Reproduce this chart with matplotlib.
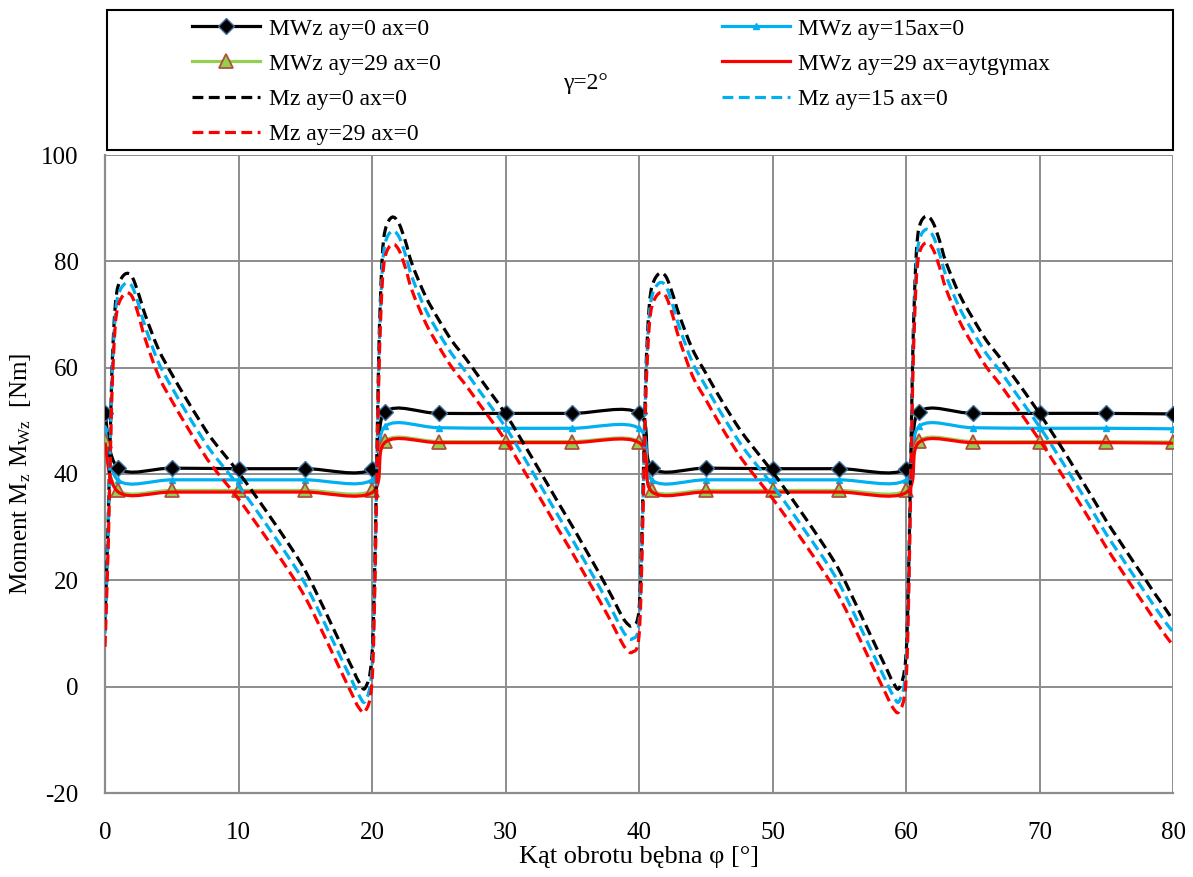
import numpy as np
import matplotlib
matplotlib.use("Agg")
import matplotlib.pyplot as plt
from matplotlib.path import Path
from matplotlib.patches import PathPatch, Rectangle
from matplotlib.lines import Line2D

plt.rcParams["font.family"] = ["Liberation Serif", "DejaVu Serif"]
plt.rcParams["mathtext.default"] = "regular"
plt.rcParams["axes.unicode_minus"] = False

# MWz series (points every 5 deg plus the jump points)
X_MW = [0, 1, 5, 10, 15, 20, 21, 25, 30, 35, 40, 41, 45, 50, 55, 60, 61, 65, 70, 75, 80]
MWZ_AY0 = [51.4, 41.1, 41.1, 41.0, 41.0, 41.0, 51.7, 51.4, 51.4, 51.4, 51.4,
           41.1, 41.1, 41.0, 41.0, 41.0, 51.7, 51.4, 51.4, 51.4, 51.3]
MWZ_AY15 = [48.7, 38.8, 38.9, 38.9, 38.9, 38.9, 49.0, 48.7, 48.6, 48.6, 48.6,
            38.8, 38.9, 38.9, 38.9, 38.9, 49.0, 48.7, 48.6, 48.6, 48.5]
MWZ_AY29 = [46.2, 36.9, 36.9, 36.9, 36.9, 36.9, 46.3, 46.1, 46.1, 46.1, 46.1,
            36.9, 36.9, 36.9, 36.9, 36.9, 46.3, 46.1, 46.1, 46.1, 46.0]
MWZ_AY29_TG = [45.9, 36.6, 36.6, 36.6, 36.6, 36.5, 46.0, 45.9, 45.9, 45.9, 45.9,
               36.6, 36.6, 36.6, 36.6, 36.5, 46.0, 45.9, 45.9, 45.9, 45.8]

# Mz series
X_MZ = [0, 0.25, 0.5, 0.75, 1, 1.5, 2, 2.5, 3, 4, 5, 6, 7, 8, 10, 12, 14, 15, 16, 17, 18, 18.5, 19, 19.5,
        20, 20.25, 20.5, 20.75, 21, 21.5, 22, 22.5, 23, 24, 25, 26, 27, 28, 30, 32, 34, 35, 36, 37, 38, 38.5, 39, 39.5,
        40, 40.25, 40.5, 40.75, 41, 41.5, 42, 42.5, 43, 44, 45, 46, 47, 48, 50, 52, 54, 55, 56, 57, 58, 58.5, 59, 59.5,
        60, 60.25, 60.5, 60.75, 61, 61.5, 62, 62.5, 63, 64, 65, 66, 67, 68, 70, 72, 74, 75, 76, 77, 78, 78.5, 79, 79.5,
        80]
MZ_AY0 = [12.5, 32, 58, 71, 75.5, 77.6, 77.2, 74.0, 70.0, 63.5, 58.8, 54.5, 50.4, 46.6, 40.3, 33.3, 25.9, 21.8,
          16.8, 11.5, 6.2, 3.6, 1.0, -0.2,
          6.0, 28, 62, 80, 86, 88.3, 87.2, 83.8, 79.5, 73.5, 69.0, 65.0, 61.8, 58.3, 51.3, 43.0, 34.4, 30.2,
          25.8, 21.4, 16.8, 14.3, 12.2, 11.5,
          14.5, 32, 58, 71, 75.5, 77.7, 77.2, 74.0, 70.0, 63.5, 59.0, 54.6, 50.5, 46.8, 40.4, 33.4, 26.0, 21.9,
          16.8, 11.5, 6.2, 3.6, 1.0, -0.2,
          6.0, 28, 62, 80.5, 86.5, 88.5, 87.4, 84.0, 79.8, 73.8, 69.3, 65.2, 62.0, 58.5, 51.4, 43.6, 35.4, 31.2,
          27.4, 23.6, 19.9, 18.0, 16.2, 14.4,
          12.5]
MZ_AY15 = [10.0, 29.5, 55.8, 69.1, 73.7, 75.8, 75.4, 72.0, 67.8, 61.0, 56.3, 52.0, 47.9, 44.1, 37.8, 30.8, 23.4, 19.3,
           14.3, 9.0, 3.7, 1.1, -1.5, -2.7,
           3.5, 25.5, 59.5, 77.5, 83.5, 85.7, 84.7, 81.3, 77.0, 71.0, 66.5, 62.5, 59.3, 55.8, 48.8, 40.5, 31.9, 27.7,
           23.3, 18.9, 14.3, 11.8, 9.7, 9.0,
           12.0, 29.5, 55.8, 69.1, 73.7, 75.9, 75.4, 72.0, 67.8, 61.0, 56.5, 52.1, 48.0, 44.3, 37.9, 30.9, 23.5, 19.4,
           14.3, 9.0, 3.7, 1.1, -1.5, -2.7,
           3.5, 25.5, 59.5, 78.0, 84.0, 86.0, 84.9, 81.5, 77.3, 71.3, 66.8, 62.7, 59.5, 56.0, 48.9, 41.1, 32.9, 28.7,
           24.9, 21.1, 17.4, 15.5, 13.7, 11.9,
           10.3]
MZ_AY29 = [7.5, 27, 53.5, 67.2, 71.8, 73.9, 73.5, 70.0, 65.5, 58.5, 53.8, 49.5, 45.4, 41.6, 35.3, 28.3, 20.9, 16.8,
           11.8, 6.5, 1.2, -1.4, -3.9, -4.6,
           1.0, 23, 57, 75, 81, 83.2, 82.2, 78.8, 74.5, 68.5, 64.0, 60.0, 56.8, 53.3, 46.3, 38.0, 29.4, 25.2,
           20.8, 16.4, 11.8, 9.3, 7.2, 6.5,
           9.5, 27, 53.5, 67.2, 71.8, 74.0, 73.5, 70.0, 65.5, 58.5, 54.0, 49.6, 45.5, 41.8, 35.4, 28.4, 21.0, 16.9,
           11.8, 6.5, 1.2, -1.4, -3.9, -4.6,
           1.0, 23, 57, 75.5, 81.5, 83.5, 82.4, 79.0, 74.8, 68.8, 64.3, 60.2, 57.0, 53.5, 46.4, 38.6, 30.4, 26.2,
           22.4, 18.6, 14.9, 13.0, 11.2, 9.4,
           7.8]

X_TICKS = [0, 10, 20, 30, 40, 50, 60, 70, 80]
Y_TICKS = [-20, 0, 20, 40, 60, 80, 100]

BLACK = "#000000"
CYAN = "#00B0F0"
GREEN = "#92D050"
RED = "#FF0000"
GRID = "#8C8C8C"
DASH = (0, (3.4, 1.7))
FS = 17
TICK_FS = 18
LABEL_FS = 19


def smooth_path(x, y):
    # Excel style smoothed line: cubic bezier through every point
    pts = np.column_stack([x, y]).astype(float)
    n = len(pts)
    verts = [pts[0]]
    codes = [Path.MOVETO]
    for i in range(n - 1):
        p0 = pts[i - 1] if i > 0 else pts[i]
        p1 = pts[i]
        p2 = pts[i + 1]
        p3 = pts[i + 2] if i + 2 < n else pts[i + 1]
        verts += [p1 + (p2 - p0) / 6.0, p2 - (p3 - p1) / 6.0, p2]
        codes += [Path.CURVE4] * 3
    return Path(verts, codes)


def add_curve(ax, x, y, color, lw, ls="-", zorder=3):
    patch = PathPatch(smooth_path(x, y), facecolor="none", edgecolor=color,
                      linewidth=lw, linestyle=ls, zorder=zorder, capstyle="butt")
    ax.add_patch(patch)


fig = plt.figure(figsize=(11.93, 8.77), dpi=100)
ax = fig.add_axes([105 / 1193, 1 - 793 / 877, 1068 / 1193, 638 / 877])

lw = 2.3
add_curve(ax, X_MW, MWZ_AY0, BLACK, lw)
ax.plot(X_MW, MWZ_AY0, ls="none", marker="D", ms=8.5, mfc=BLACK, mec="#41719C", mew=1.0, zorder=4)
add_curve(ax, X_MW, MWZ_AY15, CYAN, lw)
ax.plot(X_MW, MWZ_AY15, ls="none", marker="^", ms=5, mfc=CYAN, mec=CYAN, zorder=4)
add_curve(ax, X_MW, MWZ_AY29, GREEN, lw)
ax.plot(X_MW, MWZ_AY29, ls="none", marker="^", ms=10, mfc=GREEN, mec="#B0503C", mew=1.3, zorder=4)
add_curve(ax, X_MW, MWZ_AY29_TG, RED, lw, zorder=4.5)
add_curve(ax, X_MZ, MZ_AY0, BLACK, lw, DASH, zorder=5)
add_curve(ax, X_MZ, MZ_AY15, CYAN, lw, DASH, zorder=5)
add_curve(ax, X_MZ, MZ_AY29, RED, lw, DASH, zorder=5)

ax.set_xlim(0, 80)
ax.set_ylim(-20, 100)
ax.set_xticks(X_TICKS)
ax.set_yticks(Y_TICKS)
ax.tick_params(axis="both", length=0, labelsize=TICK_FS)
ax.tick_params(axis="x", pad=21)
ax.tick_params(axis="y", pad=19)
ax.grid(True, color=GRID, linewidth=1.4)
ax.set_axisbelow(True)
for side in ("top", "right"):
    ax.spines[side].set_visible(False)
for side in ("left", "bottom"):
    ax.spines[side].set_color(GRID)
    ax.spines[side].set_linewidth(1.6)

ax.set_xlabel("Kąt obrotu bębna φ [°]", fontsize=LABEL_FS, labelpad=1)
ax.set_ylabel("Moment M$_{z}$ M$_{Wz}$  [Nm]", fontsize=18, labelpad=6)

# legend (row-major order like the original)
h = {
    "mw0": Line2D([], [], color=BLACK, lw=lw, marker="D", ms=8.5, mfc=BLACK, mec="#41719C"),
    "mw15": Line2D([], [], color=CYAN, lw=lw, marker="^", ms=5, mfc=CYAN, mec=CYAN),
    "mw29": Line2D([], [], color=GREEN, lw=lw, marker="^", ms=10, mfc=GREEN, mec="#B0503C", mew=1.3),
    "mw29tg": Line2D([], [], color=RED, lw=lw),
    "mz0": Line2D([], [], color=BLACK, lw=lw, ls=DASH),
    "mz15": Line2D([], [], color=CYAN, lw=lw, ls=DASH),
    "mz29": Line2D([], [], color=RED, lw=lw, ls=DASH),
}
labels = {
    "mw0": "MWz ay=0 ax=0",
    "mw15": "MWz ay=15ax=0",
    "mw29": "MWz ay=29 ax=0",
    "mw29tg": "MWz ay=29 ax=aytgγmax",
    "mz0": "Mz ay=0 ax=0",
    "mz15": "Mz ay=15 ax=0",
    "mz29": "Mz ay=29 ax=0",
}
order = ["mw0", "mw29", "mz0", "mz29", "mw15", "mw29tg", "mz15"]
fig.legend([h[k] for k in order], [labels[k] for k in order], ncol=2,
           loc="upper left", bbox_to_anchor=(192 / 1193, 1 - 18 / 877),
           frameon=False, fontsize=FS, handlelength=2.9, handletextpad=0.35,
           labelspacing=0.58, columnspacing=11.9, borderaxespad=0, borderpad=0)

fig.patches.append(Rectangle((107 / 1193, 1 - 150 / 877), 1066 / 1193, 140 / 877,
                             transform=fig.transFigure, fill=False, edgecolor="black",
                             linewidth=1.5))
fig.text(585 / 1193, 1 - 83 / 877, "γ=2°", fontsize=FS, ha="center", va="center")

fig.savefig("out.png", dpi=100)
